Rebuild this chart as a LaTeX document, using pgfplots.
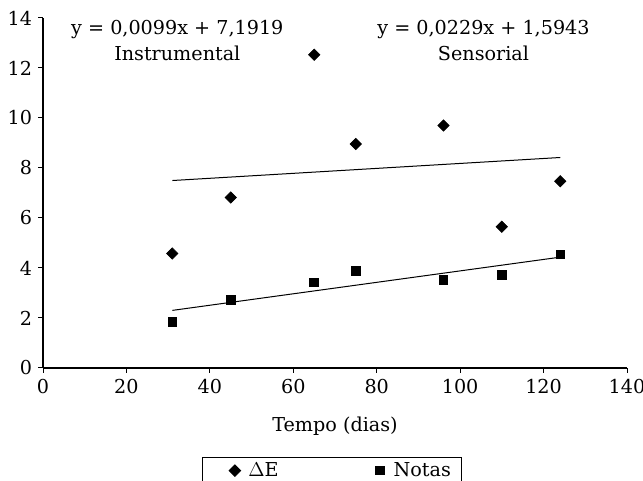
\documentclass[border=0pt]{standalone}
\usepackage{fontspec}
\setmainfont{DejaVu Serif}
\usepackage{pgfplots}
\pgfplotsset{compat=1.18}

\pgfplotstableread{
x   y
31  4.58
45  6.82
65  12.53
75  8.96
96  9.70
110 5.65
124 7.47
}\deltaE

\pgfplotstableread{
x   y
31  1.85
45  2.73
65  3.43
75  3.88
96  3.53
110 3.72
124 4.55
}\notas

\pgfplotsset{
    mymark legend/.style={
        legend image code/.code={%
            \path[draw=none, fill=none] (0pt,-3pt) rectangle (21pt,3pt);
            \draw[##1] plot coordinates {(15pt,0pt)};}
    }
}

\begin{document}
\begin{tikzpicture}[font=\fontsize{11.5}{13.8}\selectfont]
\begin{axis}[
    scale only axis,
    width=350.4pt, height=210pt,
    xmin=0, xmax=140, ymin=0, ymax=14,
    xtick={0,20,...,140}, ytick={0,2,...,14},
    axis lines*=left,
    axis line style={line width=0.7pt, -},
    tick align=outside,
    major tick length=3pt,
    tick style={line width=0.6pt, black},
    /pgf/number format/assume math mode=true,
    xlabel={Tempo (dias)},
    xlabel style={yshift=-7pt},
    clip=false,
    legend columns=2,
    legend style={at={(0.495,-0.254)}, anchor=north, draw=black, line width=0.6pt,
        inner xsep=4.5pt, inner ysep=1pt,
        /tikz/every even column/.append style={column sep=44pt},
        font=\fontsize{11.5}{13.8}\selectfont},
]
\addplot[only marks, mark=square*, mark size=2.4pt, mark options={rotate=45}, black, mymark legend] table {\deltaE};
\addlegendentry{$\Delta$E}
\addplot[only marks, mark=square*, mark size=2.6pt, black, mymark legend] table {\notas};
\addlegendentry{Notas}
\addplot[black, line width=0.6pt, forget plot] coordinates {(31,7.499) (124,8.420)};
\addplot[black, line width=0.6pt, forget plot] coordinates {(31,2.304) (124,4.434)};
\node at (axis cs:32.2,13.55) {y = 0,0099x + 7,1919};
\node at (axis cs:32.2,12.6) {Instrumental};
\node at (axis cs:105.6,13.55) {y = 0,0229x + 1,5943};
\node at (axis cs:105.6,12.6) {Sensorial};
\end{axis}
\pgfresetboundingbox
\path[use as bounding box] (-25.8pt,-67.8pt) rectangle (360pt,220.8pt);
\end{tikzpicture}
\end{document}
